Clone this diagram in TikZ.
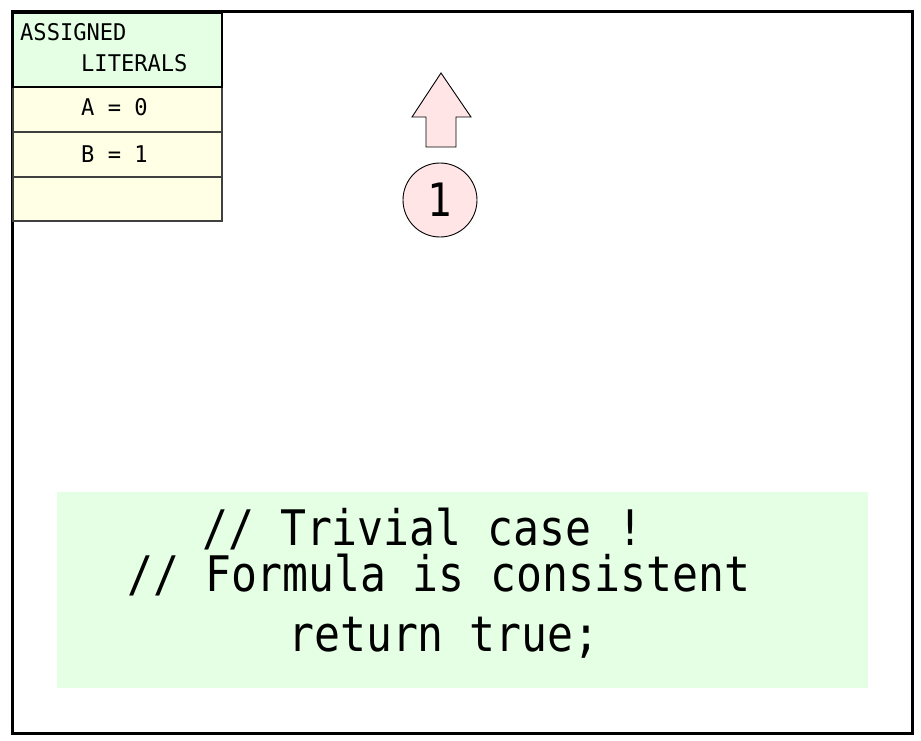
\documentclass[tikz,border=0pt]{standalone}
\usepackage{fontspec}
\newfontfamily\codefont[FakeStretch=0.88]{DejaVu Sans Mono}
\newfontfamily\tablefont[FakeStretch=0.96]{DejaVu Sans Mono}
\definecolor{litgreen}{HTML}{E5FFE5}
\definecolor{lityellow}{HTML}{FFFFE5}
\definecolor{litpink}{HTML}{FFE5E5}

\begin{document}
\begin{tikzpicture}[x=1pt,y=-1pt,
  cell/.style={draw=black!75,line width=1.2pt,fill=lityellow,anchor=north west,
    minimum width=209pt,minimum height=45pt,inner sep=0,outer sep=0},
  celltext/.style={anchor=base west,inner sep=0,font=\tablefont\fontsize{23pt}{23pt}\selectfont},
  codeline/.style={anchor=base west,inner sep=0,font=\codefont\fontsize{49pt}{49pt}\selectfont}]
\useasboundingbox (0,0) rectangle (921,741);

\draw [line width=3pt] (12,12) rectangle (912,733);

% assigned literals table
\node (row1) at (13,87) [cell] {};
\node (row2) at (13,132) [cell] {};
\node (row3) at (13,177) [cell,minimum height=44pt] {};
\node (head) at (13,13) [cell,fill=litgreen,draw=black,line width=2.4pt,minimum height=74pt] {};
\node (head1) at (20,41) [celltext] {ASSIGNED};
\node (head2) at (81,72) [celltext] {LITERALS};
\node (lit1) at (81,116) [celltext] {A = 0};
\node (lit2) at (81,162) [celltext] {B = 1};

% step marker
\draw [fill=litpink,line width=0.9pt] (441,73) -- (471,117) -- (456,117) -- (456,147)
  -- (426,147) -- (426,117) -- (412,117) -- cycle;
\node (step) at (440,200) [circle,draw,line width=0.9pt,fill=litpink,minimum size=74pt,inner sep=0,
  font=\codefont\fontsize{46pt}{46pt}\selectfont] {1};

% code
\node (code) at (57,492) [anchor=north west,fill=litgreen,minimum width=811pt,minimum height=196pt,inner sep=0] {};
\node (line1) at (202,545) [codeline] {// Trivial case !};
\node (line2) at (127,591) [codeline] {// Formula is consistent};
\node (line3) at (288,651) [codeline] {return true;};
\end{tikzpicture}
\end{document}
